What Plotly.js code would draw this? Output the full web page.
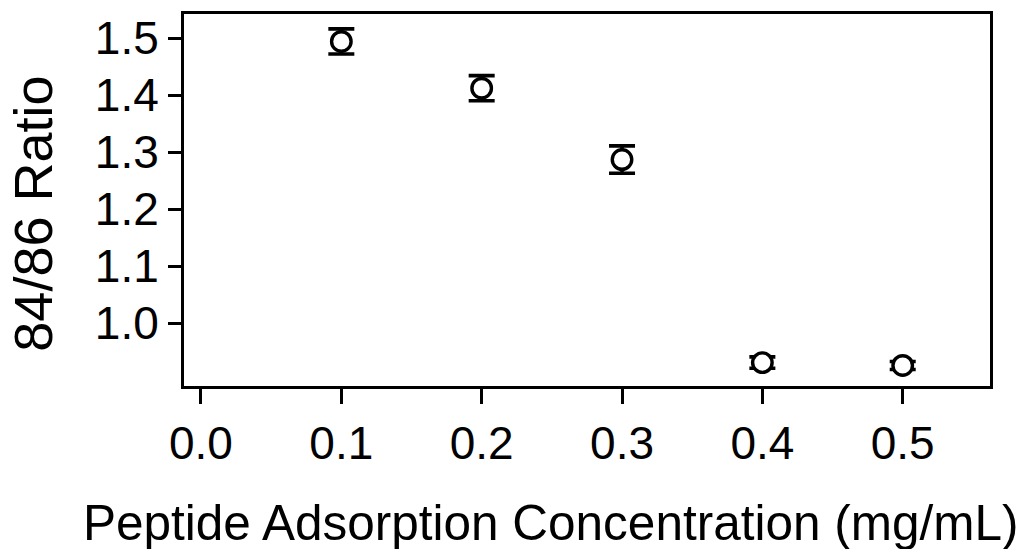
<!DOCTYPE html>
<html>
<head>
<meta charset="utf-8">
<script src="https://cdn.plot.ly/plotly-3.0.1.min.js"></script>
<style>html,body{margin:0;padding:0;background:#fff;}#chart{width:1026px;height:549px;}</style>
</head>
<body>
<div id="chart"></div>
<script>
// Data
const concentration = [0.1, 0.2, 0.3, 0.4, 0.5];
const ratio = [1.494, 1.412, 1.287, 0.931, 0.926];
const ratioError = [0.022, 0.022, 0.024, 0.010, 0.007];
const xTickValues = [0.0, 0.1, 0.2, 0.3, 0.4, 0.5];
const xTickLabels = ["0.0", "0.1", "0.2", "0.3", "0.4", "0.5"];
const yTickValues = [1.0, 1.1, 1.2, 1.3, 1.4, 1.5];
const yTickLabels = ["1.0", "1.1", "1.2", "1.3", "1.4", "1.5"];
const xTitle = "Peptide Adsorption Concentration (mg/mL)";
const yTitle = "84/86 Ratio";

const font = "Liberation Sans, Arial, Helvetica, sans-serif";

const trace = {
  x: concentration,
  y: ratio,
  type: "scatter",
  mode: "markers",
  marker: {symbol: "circle", size: 19.5, color: "white", line: {color: "black", width: 3.4}},
  error_y: {type: "data", array: ratioError, visible: true, color: "black", thickness: 3.6, width: 13},
  showlegend: false,
  hoverinfo: "x+y"
};

const layout = {
  width: 1026,
  height: 549,
  margin: {l: 184, r: 36, t: 14, b: 163, pad: 0},
  paper_bgcolor: "white",
  plot_bgcolor: "white",
  font: {family: font, color: "black", size: 46},
  xaxis: {
    range: [-0.0121, 0.5622],
    tickmode: "array",
    tickvals: xTickValues,
    ticktext: xTickLabels,
    ticks: "outside",
    ticklen: 15,
    tickwidth: 3,
    tickcolor: "black",
    showline: true,
    linecolor: "black",
    linewidth: 3,
    mirror: true,
    showgrid: false,
    zeroline: false,
    tickfont: {family: font, size: 46, color: "black"}
  },
  yaxis: {
    range: [0.890, 1.5421],
    tickmode: "array",
    tickvals: yTickValues,
    ticktext: yTickLabels,
    ticks: "outside",
    ticklen: 13,
    tickwidth: 3,
    tickcolor: "black",
    showline: true,
    linecolor: "black",
    linewidth: 3,
    mirror: true,
    showgrid: false,
    zeroline: false,
    tickfont: {family: font, size: 46, color: "black"}
  },
  annotations: [
    {text: xTitle, xref: "paper", yref: "paper", x: 0.4556, y: -0.366, xanchor: "center", yanchor: "middle",
     showarrow: false, font: {family: font, size: 49.5, color: "black"}},
    {text: yTitle, xref: "paper", yref: "paper", x: -0.187, y: 0.464, xanchor: "center", yanchor: "middle",
     textangle: -90, showarrow: false, font: {family: font, size: 54, color: "black"}}
  ]
};

Plotly.newPlot("chart", [trace], layout, {displayModeBar: false, staticPlot: true});
</script>
</body>
</html>
